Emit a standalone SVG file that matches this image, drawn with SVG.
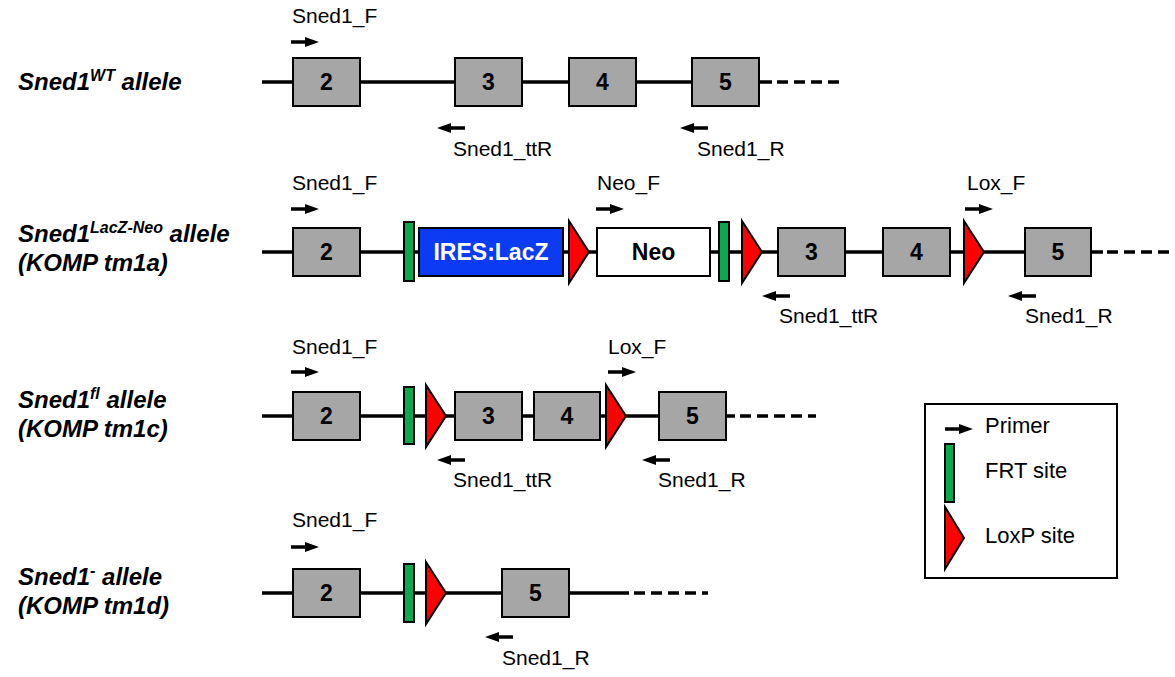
<svg xmlns="http://www.w3.org/2000/svg" xmlns:xlink="http://www.w3.org/1999/xlink" width="1175" height="677" viewBox="0 0 1175 677">
<style>
.bb{stroke:#000;stroke-width:3.5;fill:none}
.ds{stroke:#000;stroke-width:3.5;fill:none;stroke-dasharray:11 6}
.ex{fill:#a6a6a6;stroke:#000;stroke-width:2}
.lz{fill:#0b3bf3;stroke:#000;stroke-width:2}
.neo{fill:#fff;stroke:#000;stroke-width:2}
.frt{fill:#0aa84f;stroke:#000;stroke-width:2}
.lox{fill:#ff0000;stroke:#000;stroke-width:2;stroke-linejoin:miter}
.num{font-family:"Liberation Sans",Arial,sans-serif;font-weight:bold;font-size:23px;text-anchor:middle;fill:#000}
.cas{font-family:"Liberation Sans",Arial,sans-serif;font-weight:bold;font-size:23px;text-anchor:middle}
.pr{font-family:"Liberation Sans",Arial,sans-serif;font-size:21px;fill:#000}
.lg{font-family:"Liberation Sans",Arial,sans-serif;font-size:22px;fill:#000}
.al{font-family:"Liberation Sans",Arial,sans-serif;font-size:24px;font-weight:bold;font-style:italic;fill:#000}
.sup{font-size:16px}
</style>
<defs>
<path id="arR" d="M0,-1.8 H14 V-5 L28,0 L14,5 V1.8 H0 Z" fill="#000"/>
<path id="arL" d="M28,-1.8 H14 V-5 L0,0 L14,5 V1.8 H28 Z" fill="#000"/>
<path id="loxT" d="M0,-31 L20,0 L0,31 Z"/>
</defs>

<g id="connectors">
<line class="bb" x1="262" y1="82" x2="772" y2="82"/>
<line class="ds" x1="777" y1="82" x2="840" y2="82"/>
<line class="bb" x1="262" y1="252" x2="1103" y2="252"/>
<line class="ds" x1="1107" y1="252" x2="1175" y2="252"/>
<line class="bb" x1="262" y1="416" x2="735" y2="416"/>
<line class="ds" x1="740" y1="416" x2="816" y2="416"/>
<line class="bb" x1="262" y1="593" x2="629" y2="593"/>
<line class="ds" x1="634" y1="593" x2="708" y2="593"/>
</g>

<g id="labels">
<text class="al" x="18" y="90">Sned1<tspan class="sup" dy="-9">WT</tspan><tspan dy="9"> allele</tspan></text>
<text class="al" x="18" y="242">Sned1<tspan class="sup" dy="-9">LacZ-Neo</tspan><tspan dy="9"> allele</tspan></text>
<text class="al" x="18" y="271">(KOMP tm1a)</text>
<text class="al" x="18" y="408">Sned1<tspan class="sup" dy="-9">fl</tspan><tspan dy="9"> allele</tspan></text>
<text class="al" x="18" y="437">(KOMP tm1c)</text>
<text class="al" x="18" y="585">Sned1<tspan class="sup" dy="-9">-</tspan><tspan dy="9"> allele</tspan></text>
<text class="al" x="18" y="614">(KOMP tm1d)</text>
</g>

<g id="row-wt">
<g id="wt-ex2"><rect class="ex" x="293" y="58" width="67" height="48"/><text class="num" x="326.5" y="90">2</text></g>
<g id="wt-ex3"><rect class="ex" x="455" y="58" width="67" height="48"/><text class="num" x="488.5" y="90">3</text></g>
<g id="wt-ex4"><rect class="ex" x="569" y="58" width="67" height="48"/><text class="num" x="602.5" y="90">4</text></g>
<g id="wt-ex5"><rect class="ex" x="692" y="58" width="67" height="48"/><text class="num" x="725.5" y="90">5</text></g>
<g id="wt-primers">
<use xlink:href="#arR" transform="translate(291,42)"/><text class="pr" x="292" y="23">Sned1_F</text>
<use xlink:href="#arL" transform="translate(437,128)"/><text class="pr" x="453" y="156">Sned1_ttR</text>
<use xlink:href="#arL" transform="translate(680,128)"/><text class="pr" x="697" y="156">Sned1_R</text>
</g>
</g>

<g id="row-tm1a">
<g id="a-ex2"><rect class="ex" x="293" y="228" width="67" height="48"/><text class="num" x="326.5" y="260">2</text></g>
<g id="a-frt1"><rect class="frt" x="404" y="222" width="10" height="59"/></g>
<g id="a-lacz"><rect class="lz" x="419" y="228" width="144" height="48"/><text class="cas" x="491" y="260" fill="#fff">IRES:LacZ</text></g>
<g id="a-lox1"><use xlink:href="#loxT" class="lox" transform="translate(569,252)"/></g>
<g id="a-neo"><rect class="neo" x="597" y="228" width="113" height="48"/><text class="cas" x="653.5" y="260" fill="#000">Neo</text></g>
<g id="a-frt2"><rect class="frt" x="719" y="222" width="10" height="59"/></g>
<g id="a-lox2"><use xlink:href="#loxT" class="lox" transform="translate(742,252)"/></g>
<g id="a-ex3"><rect class="ex" x="778" y="228" width="67" height="48"/><text class="num" x="811.5" y="260">3</text></g>
<g id="a-ex4"><rect class="ex" x="883" y="228" width="67" height="48"/><text class="num" x="916.5" y="260">4</text></g>
<g id="a-lox3"><use xlink:href="#loxT" class="lox" transform="translate(964,252)"/></g>
<g id="a-ex5"><rect class="ex" x="1025" y="228" width="66" height="48"/><text class="num" x="1058" y="260">5</text></g>
<g id="a-primers">
<use xlink:href="#arR" transform="translate(291,209)"/><text class="pr" x="292" y="190">Sned1_F</text>
<use xlink:href="#arR" transform="translate(596,209)"/><text class="pr" x="597" y="190">Neo_F</text>
<use xlink:href="#arR" transform="translate(965,209)"/><text class="pr" x="967" y="190">Lox_F</text>
<use xlink:href="#arL" transform="translate(762,296)"/><text class="pr" x="779" y="323">Sned1_ttR</text>
<use xlink:href="#arL" transform="translate(1008,296)"/><text class="pr" x="1025" y="323">Sned1_R</text>
</g>
</g>

<g id="row-tm1c">
<g id="c-ex2"><rect class="ex" x="293" y="392" width="67" height="48"/><text class="num" x="326.5" y="424">2</text></g>
<g id="c-frt"><rect class="frt" x="404" y="387" width="10" height="57"/></g>
<g id="c-lox1"><use xlink:href="#loxT" class="lox" transform="translate(426,416)"/></g>
<g id="c-ex3"><rect class="ex" x="455" y="392" width="67" height="48"/><text class="num" x="488.5" y="424">3</text></g>
<g id="c-ex4"><rect class="ex" x="534" y="392" width="66" height="48"/><text class="num" x="567" y="424">4</text></g>
<g id="c-lox2"><use xlink:href="#loxT" class="lox" transform="translate(606,416)"/></g>
<g id="c-ex5"><rect class="ex" x="659" y="392" width="67" height="48"/><text class="num" x="692.5" y="424">5</text></g>
<g id="c-primers">
<use xlink:href="#arR" transform="translate(291,372)"/><text class="pr" x="292" y="354">Sned1_F</text>
<use xlink:href="#arR" transform="translate(608,372)"/><text class="pr" x="608" y="354">Lox_F</text>
<use xlink:href="#arL" transform="translate(437,460)"/><text class="pr" x="453" y="487">Sned1_ttR</text>
<use xlink:href="#arL" transform="translate(642,460)"/><text class="pr" x="658" y="487">Sned1_R</text>
</g>
</g>

<g id="row-tm1d">
<g id="d-ex2"><rect class="ex" x="293" y="569" width="67" height="48"/><text class="num" x="326.5" y="601">2</text></g>
<g id="d-frt"><rect class="frt" x="404" y="564" width="10" height="58"/></g>
<g id="d-lox"><use xlink:href="#loxT" class="lox" transform="translate(426,593)"/></g>
<g id="d-ex5"><rect class="ex" x="502" y="569" width="67" height="48"/><text class="num" x="535.5" y="601">5</text></g>
<g id="d-primers">
<use xlink:href="#arR" transform="translate(291,547)"/><text class="pr" x="292" y="527">Sned1_F</text>
<use xlink:href="#arL" transform="translate(485,637)"/><text class="pr" x="502" y="665">Sned1_R</text>
</g>
</g>

<g id="legend">
<rect x="925" y="404" width="192" height="174" fill="#fff" stroke="#000" stroke-width="2"/>
<use xlink:href="#arR" transform="translate(945,429)"/>
<text class="lg" x="985" y="433">Primer</text>
<rect class="frt" x="945" y="444" width="9" height="58"/>
<text class="lg" x="985" y="478">FRT site</text>
<path class="lox" d="M945,507 L964,538 L945,569 Z"/>
<text class="lg" x="985" y="543">LoxP site</text>
</g>
</svg>
